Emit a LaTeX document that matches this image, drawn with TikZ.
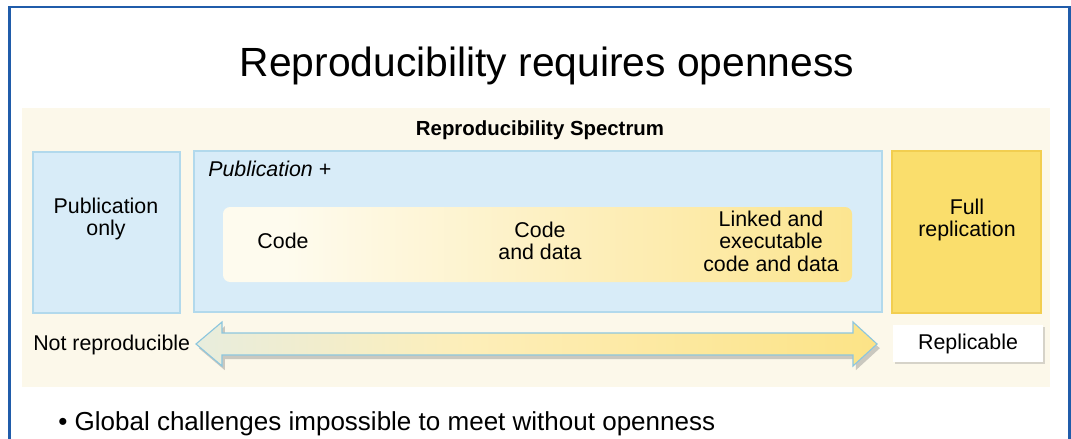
\documentclass[tikz,border=0pt]{standalone}
\usepackage{fontspec}
\setmainfont{Liberation Sans}
\usetikzlibrary{fit,shadows}

\definecolor{frameblue}{RGB}{32,92,170}
\definecolor{beige}{RGB}{252,248,234}
\definecolor{paleblue}{RGB}{216,236,248}
\definecolor{blueedge}{RGB}{178,217,236}
\definecolor{gold}{RGB}{250,222,108}
\definecolor{goldedge}{RGB}{242,206,80}
\definecolor{cream}{RGB}{254,251,238}
\definecolor{paleyellow}{RGB}{253,238,185}
\definecolor{deepyellow}{RGB}{251,218,92}
\definecolor{arrowedge}{RGB}{140,198,222}

\pgfdeclarehorizontalshading{codeshade}{100bp}{color(0bp)=(cream); color(30bp)=(cream);
  color(55bp)=(paleyellow); color(100bp)=(deepyellow)}
\pgfdeclarehorizontalshading{spanshade}{100bp}{color(0bp)=(paleblue); color(10bp)=(paleblue);
  color(45bp)=(paleyellow); color(100bp)=(deepyellow)}

\newcommand{\bodyfont}{\fontsize{15.2}{16}\selectfont}

\begin{document}
\begin{tikzpicture}[x=0.025cm,y=-0.025cm,
        panel/.style={fill=paleblue,draw=blueedge,line width=1pt,inner sep=0pt},
        goldpanel/.style={fill=gold,draw=goldedge,line width=1pt,inner sep=0pt},
        txt/.style={font=\bodyfont,align=center,inner sep=0pt},
        headtxt/.style={font=\fontsize{14.5}{16}\selectfont\bfseries,inner sep=0pt}]

  \useasboundingbox (0,0) rectangle (1071,439);
  \clip (0,0) rectangle (1071,439);
  \fill[white] (0,0) rectangle (1071,439);
  \draw[frameblue,line width=2pt] (9.5,480) -- (9.5,7) -- (1069.5,7) -- (1069.5,480);

  % title
  \node[font=\fontsize{29}{32}\selectfont,anchor=base,inner sep=0pt] (title) at (547,77)
        {Reproducibility requires openness};

  % spectrum panel
  \fill[beige] (22,108) rectangle (1050,387);
  \node[headtxt] (spectrum) at (540,130) {Reproducibility Spectrum};

  \node[panel,fit={(33,152) (180,313)}] (pubonly) {};
  \node[panel,fit={(194,151) (882,312)}] (pubplus) {};
  \node[goldpanel,fit={(892,151) (1041,313)}] (fullrep) {};
  \node[shading=codeshade,rounded corners=5pt,inner sep=0pt,fit={(223,207) (852,282)}] (ramp) {};

  \node[txt] (pubonlytxt) at (106,219) {Publication\\only};
  \node[txt,font=\bodyfont\itshape,anchor=west] (pubplustxt) at (208,169) {Publication +};
  \node[txt] (code) at (283,241) {Code};
  \node[txt] (codedata) at (540,241) {Code\\and data};
  \node[txt] (linked) at (771,241) {Linked and\\executable\\code and data};
  \node[txt] (fullreptxt) at (967,220) {Full\\replication};

  % spectrum arrow
  \path[shading=spanshade,draw=arrowedge,line width=0.8pt,
        drop shadow={opacity=0.4,shadow xshift=2pt,shadow yshift=-3pt}]
        (196,344) -- (222,322) -- (222,333) -- (853,333) -- (853,322) -- (877,344)
        -- (853,366) -- (853,355) -- (222,355) -- (222,366) -- cycle;

  \node[txt,anchor=west] (notrep) at (33,345) {Not reproducible};
  \node[fill=white,inner sep=0pt,fit={(893,325) (1043,362)},
        drop shadow={opacity=0.3,shadow xshift=1.5pt,shadow yshift=-1.5pt}] (replbox) {};
  \node[txt] (repl) at (replbox.center) {Replicable};

  % bullet
  \node[font=\fontsize{18.5}{20}\selectfont,anchor=base west,inner sep=0pt] (bullet) at (58,430)
        {\textbullet\ Global challenges impossible to meet without openness};

\end{tikzpicture}
\end{document}
